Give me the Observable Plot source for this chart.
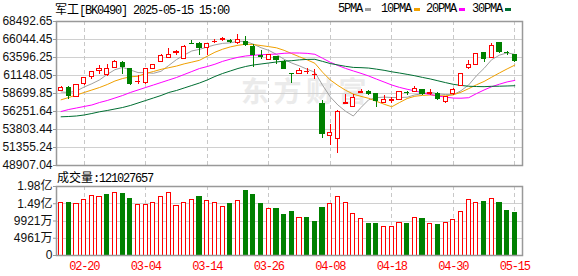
<!DOCTYPE html>
<html><head><meta charset="utf-8">
<script src="https://cdn.jsdelivr.net/npm/d3@7"></script>
<script src="https://cdn.jsdelivr.net/npm/@observablehq/plot@0.6"></script>
<style>
html,body{margin:0;padding:0;background:#fff;}
#wrap{position:relative;width:578px;height:276px;overflow:hidden;}
.mono{position:absolute;white-space:nowrap;font-family:"Liberation Mono",monospace;font-size:12px;letter-spacing:-1.2px;line-height:14px;color:#000;z-index:3;}
.cjk{font-family:"Noto Sans CJK SC",sans-serif;letter-spacing:0;font-size:12px;}
.sw{position:absolute;width:6px;height:3px;}
#wm{position:absolute;left:241px;top:70px;font-family:"Noto Sans CJK SC",sans-serif;font-weight:bold;font-size:28px;letter-spacing:4.5px;color:#ebebeb;z-index:0;white-space:nowrap;}
#price,#vol{position:absolute;left:0;}
#price{top:0;z-index:1;}
#vol{top:170px;z-index:2;}
#vol g[aria-label="x-axis tick label"] text{letter-spacing:-1.2px;}
</style>
</head><body>
<div id="wrap">
  <div id="wm">东方财富</div>
  <div id="price"></div>
  <div id="vol"></div>
  <div class="mono" id="title" style="left:55px;top:2px;"></div>
  <div id="legend"></div>
  <div class="mono" id="vlab" style="left:57px;top:170px;"></div>
</div>
<script>
// ---------- data ----------
const titleName = "军工";
const titleCode = "[BK0490] 2025-05-15 15:00";
const dates = ["02-17","02-18","02-19","02-20","02-21","02-24","02-25","02-26","02-27","02-28",
"03-03","03-04","03-05","03-06","03-07","03-10","03-11","03-12","03-13","03-14",
"03-17","03-18","03-19","03-20","03-21","03-24","03-25","03-26","03-27","03-28",
"03-31","04-01","04-02","04-03","04-07","04-08","04-09","04-10","04-11","04-14",
"04-15","04-16","04-17","04-18","04-21","04-22","04-23","04-24","04-25","04-28",
"04-29","04-30","05-06","05-07","05-08","05-09","05-12","05-13","05-14","05-15"];
const opens = [59016,59476,58250,59965,60970,61730,61150,62140,62915,62100,
60250,60060,62000,63010,63550,64150,63365,65460,65365,64915,
65700,66000,65820,65636,65730,65050,63750,63280,63690,63010,
61370,61380,61600,61200,57204,52950,52480,57300,56930,58740,
58970,58600,57340,57700,57840,58820,58930,59200,58650,58565,
57520,58565,59745,62195,62550,64275,63500,65636,64250,63960];
const highs = [59650,59650,59965,60835,61650,62550,62645,63150,63093,62100,
61108,62100,62600,63960,64820,64507,65180,65870,65680,65455,
66085,66316,66085,66765,66450,65400,64507,63960,63690,63150,
61400,62140,62100,62005,57707,54525,56350,58565,58600,59285,
59100,58740,58390,58156,58920,59012,59650,59250,59200,58835,
58245,59380,61285,63150,64100,64275,65460,65636,64450,64050];
const lows = [58930,57925,58156,59830,60645,61325,61010,62140,61325,59830,
59965,59925,61900,63010,63550,63910,63300,65400,63910,63910,
65540,65770,65540,65400,65050,62236,63365,63200,62600,62000,
60100,61380,61325,60645,52580,51670,50580,57300,56800,58740,
58400,56800,57340,57380,57700,58468,58835,58480,58390,57790,
57340,58390,59745,61920,62470,62915,63420,64100,63910,62950];
const closes = [59476,58292,59880,60835,61650,62100,62060,63050,62370,59925,
60330,62000,62600,63775,63870,64300,65092,65400,64860,65455,
65770,66085,65770,65950,65320,63910,63690,63960,63230,62000,
61290,61790,61650,61240,53165,53350,56250,57400,58020,58970,
58600,57700,57750,57780,58920,58790,59340,58565,58700,57925,
58245,59240,61285,62600,64100,63365,65185,64316,64180,63090];
// volume in 万 (10k)
const volumes = [15157,14955,14869,16019,17170,16882,17256,18033,17544,16106,
14380,14380,15157,16882,18033,14294,14955,16019,16681,15530,
14955,14006,14754,15530,18406,17342,14754,13230,13230,11504,
12367,10843,10641,9491,13517,14668,16882,15157,11792,10555,
8916,8916,8254,8254,9203,8916,10843,10354,8916,8628,
9203,10066,12568,16019,15157,15243,16307,14955,12654,12102.7657];
const ma5 = [58904,58836,59040,59584,60027,60551,61305,61939,62246,61901,
61547,61535,61445,61726,62515,63309,63927,64487,64704,65021,
65315,65514,65588,65806,65779,65407,64928,64566,64022,63358,
62834,62454,61992,61594,59827,58239,57131,56281,55637,56798,
57848,58138,58208,58160,58150,58188,58510,58673,58863,58664,
58555,58535,59079,59859,61094,62118,63307,63913,64229,64027];
const ma10 = [57843,58156,58496,58836,59176,59516,59924,60400,60740,60964,
61049,61420,61692,61986,62208,62428,62731,62966,63215,63768,
64312,64721,65038,65255,65400,65361,65221,65077,64914,64569,
64121,63691,63279,62808,61593,60537,59793,59137,58616,58313,
58044,57635,57245,56896,57471,58015,58324,58441,58509,58404,
58369,58523,58876,59361,59879,60337,60921,61496,62044,62561];
const ma20 = [56252,56524,56728,56932,57136,57476,57748,58088,58428,58836,
59176,59516,59856,60196,60536,60876,61284,61692,62100,62366,
62681,63070,63365,63621,63804,63895,63976,64022,64065,64168,
64216,64206,64158,64032,63496,62949,62507,62107,61765,61441,
61082,60663,60262,59852,59532,59276,59058,58789,58562,58358,
58206,58079,58060,58128,58675,59176,59623,59968,60276,60482];
const ma30 = [55532,55573,55641,55777,55981,56212,56389,56593,56797,57069,
57409,57749,58089,58429,58837,59109,59449,59789,60129,60537,
61013,61421,61761,62101,62373,62577,62713,62849,62985,63100,
63161,63277,63336,63350,63067,62775,62582,62393,62248,62216,
62159,62015,61854,61653,61488,61304,61113,60885,60679,60428,
60178,59949,59800,59688,59648,59629,59679,59691,59723,59759];
const maNames = ["5PMA","10PMA","20PMA","30PMA"];
const maColors = ["#a0a0a0","#f0a000","#ff00ff","#006e32"];
const priceTicks = [48907.04,51355.24,53803.44,56251.64,58699.85,61148.05,63596.25,66044.45,68492.65];
const priceTickLabels = ["48907.04","51355.24","53803.44","56251.64","58699.85","61148.05","63596.25","66044.45","68492.65"];
const volTicks = [0,4961,9921,14882,19842];
const volTickLabels = ["0","4961万","9921万","1.49亿","1.98亿"];
const xTickDates = ["02-20","03-04","03-14","03-26","04-08","04-18","04-30","05-15"];
const volLabel = "成交量";

// ---------- render ----------
const UP = "#ff0000", DOWN = "#008000";
const idx = dates.map((d, i) => i);
const candles = idx.map(i => ({i, o: opens[i], h: highs[i], l: lows[i], c: closes[i], up: closes[i] >= opens[i]}));
const vols = idx.map(i => ({i, v: volumes[i], up: i === 0 ? closes[i] >= opens[i] : closes[i] >= closes[i - 1]}));
const xTickIdx = xTickDates.map(d => dates.indexOf(d));
const mas = [ma5, ma10, ma20, ma30];
const hw = 0.27;
const xDom = [-0.6, 60];
const gridStyle = {stroke: "#d0d0d0", strokeOpacity: 1, shapeRendering: "crispEdges"};
const dashStyle = {stroke: "#c8c8c8", strokeOpacity: 1, strokeDasharray: "4,3", shapeRendering: "crispEdges"};

const price = Plot.plot({
  width: 578, height: 178, marginLeft: 56, marginRight: 56, marginTop: 21, marginBottom: 13,
  x: {type: "linear", domain: xDom, axis: null},
  y: {domain: [priceTicks[0], priceTicks[priceTicks.length - 1]], axis: null},
  color: {type: "identity"},
  style: {background: "transparent", fontFamily: "'Liberation Sans', sans-serif", fontSize: "12px", color: "#111", overflow: "visible"},
  marks: [
    Plot.gridY(priceTicks.slice(1, -1), gridStyle),
    Plot.gridX(xTickIdx, dashStyle),
    ...mas.map((m, k) => Plot.line(idx, {x: i => i, y: i => m[i], stroke: maColors[k], strokeWidth: 1})),
    Plot.ruleX(candles, {x: "i", y1: "l", y2: "h", stroke: d => d.up ? UP : DOWN, strokeWidth: 1, shapeRendering: "crispEdges"}),
    Plot.rect(candles, {x1: d => d.i - hw, x2: d => d.i + hw, y1: d => Math.min(d.o, d.c), y2: d => Math.max(d.o, d.c),
      fill: d => d.up ? "#ffffff" : DOWN, stroke: d => d.up ? UP : DOWN, strokeWidth: 1, shapeRendering: "crispEdges"}),
    Plot.frame({stroke: "#999", strokeWidth: 1.5}),
    Plot.axisY(priceTicks, {tickSize: 3, tickPadding: 1, stroke: "#999", fill: "#111", label: null,
      tickFormat: d => priceTickLabels[priceTicks.indexOf(d)]})
  ]
});
document.getElementById("price").appendChild(price);

const vol = Plot.plot({
  width: 578, height: 106, marginLeft: 56, marginRight: 56, marginTop: 16, marginBottom: 21,
  x: {type: "linear", domain: xDom, axis: null},
  y: {domain: [volTicks[0], volTicks[volTicks.length - 1]], axis: null},
  color: {type: "identity"},
  style: {background: "transparent", fontFamily: "'Liberation Sans','Noto Sans CJK SC', sans-serif", fontSize: "12px", color: "#111"},
  marks: [
    Plot.gridY(volTicks.slice(1, -1), gridStyle),
    Plot.gridX(xTickIdx, dashStyle),
    Plot.rect(vols, {x1: d => d.i - hw, x2: d => d.i + hw, y1: 0, y2: "v",
      fill: d => d.up ? "#ffffff" : DOWN, stroke: d => d.up ? UP : DOWN, strokeWidth: 1, shapeRendering: "crispEdges"}),
    Plot.frame({stroke: "#999", strokeWidth: 1.5}),
    Plot.axisY(volTicks, {tickSize: 3, tickPadding: 1, stroke: "#999", fill: "#111", label: null,
      tickFormat: d => volTickLabels[volTicks.indexOf(d)]}),
    Plot.axisX(xTickIdx, {tickSize: 0, tickPadding: 6, fill: "#ff0000", label: null,
      fontFamily: "'Liberation Mono', monospace", fontSize: 12, tickFormat: i => dates[i]})
  ]
});
document.getElementById("vol").appendChild(vol);

// header texts
document.getElementById("title").innerHTML = `<span class="cjk">${titleName}</span>${titleCode}`;
document.getElementById("vlab").innerHTML = `<span class="cjk">${volLabel}</span>:${Math.round(volumes[volumes.length - 1] * 10000)}`;
const legendLefts = [338, 381, 426, 472];
const lg = document.getElementById("legend");
maNames.forEach((n, k) => {
  const t = document.createElement("div");
  t.className = "mono";
  t.style.left = legendLefts[k] + "px";
  t.style.top = "2px";
  t.textContent = n;
  lg.appendChild(t);
  const s = document.createElement("div");
  s.className = "sw";
  s.style.left = (legendLefts[k] + n.length * 6 + 3) + "px";
  s.style.top = "8px";
  s.style.background = maColors[k];
  s.style.zIndex = 3;
  lg.appendChild(s);
});
</script>
</body></html>
